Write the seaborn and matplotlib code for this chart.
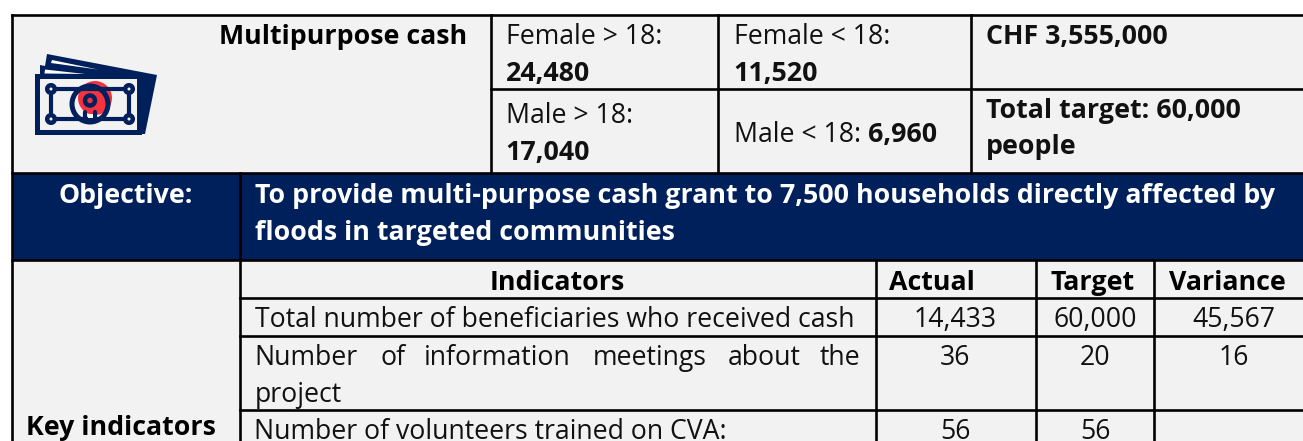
import seaborn as sns
import matplotlib
matplotlib.use("Agg")
import matplotlib.pyplot as plt
from matplotlib.patches import Rectangle, Polygon, Circle

# ---- content ----
sector = "Multipurpose cash"
people_cells = [["Female > 18:", "24,480"], ["Female < 18:", "11,520"],
                ["Male > 18:", "17,040"], ["Male < 18: ", "6,960"]]
budget = "CHF 3,555,000"
target_lines = ["Total target: 60,000", "people"]
objective_label = "Objective:"
objective_lines = ["To provide multi-purpose cash grant to 7,500 households directly affected by",
                   "floods in targeted communities"]
side_label = "Key indicators"
columns = ["Indicators", "Actual", "Target", "Variance"]
row_labels = ["Total number of beneficiaries who received cash",
              "Number of information meetings about the",
              "project",
              "Number of volunteers trained on CVA:"]
actual = ["14,433", "36", "56"]
target = ["60,000", "20", "56"]
variance = ["45,567", "16", ""]

NAVY = "#00205B"
RED = "#F5333F"
GREY = "#F2F2F2"
FS = 19.2
FS_BOLD = 19.3
DY = 2

sns.set_theme(style="white")
plt.rcParams["font.family"] = ["Open Sans", "DejaVu Sans"]

fig = plt.figure(figsize=(13.03, 4.41), dpi=100, facecolor="white")
ax = fig.add_axes([0, 0, 1, 1])
ax.set_xlim(0, 1303)
ax.set_ylim(441, 0)
ax.axis("off")

# backgrounds
ax.add_patch(Rectangle((12, 15), 1291, 426, fc=GREY, ec="none", zorder=0))
ax.add_patch(Rectangle((12, 173), 1291, 87, fc=NAVY, ec="none", zorder=1))

def line(x0, y0, x1, y1):
    ax.plot([x0, x1], [y0, y1], color="black", lw=1.9, solid_capstyle="projecting", zorder=3)

line(12, 15, 1303, 15)
line(12, 15, 12, 441)
line(12, 173, 1303, 173)
line(12, 260, 1303, 260)
line(240, 173, 240, 441)
for x in (491, 718, 971):
    line(x, 15, x, 173)
line(491, 89, 1303, 89)
for x in (876, 1036, 1154):
    line(x, 260, x, 441)
for y in (298, 336, 410):
    line(240, y, 1303, y)

def txt(x, y, s, bold=False, color="#111111", ha="left", **kw):
    return ax.text(x, y + DY, s, fontsize=FS_BOLD if bold else FS,
                   fontweight="bold" if bold else "normal",
                   color=color, ha=ha, va="center", zorder=4, **kw)

txt(343, 35, sector, bold=True, ha="center", color="black")
txt(506, 35, people_cells[0][0]); txt(506, 72, people_cells[0][1], bold=True)
txt(734, 35, people_cells[1][0]); txt(733, 72, people_cells[1][1], bold=True)
txt(506, 114, people_cells[2][0]); txt(505, 151, people_cells[2][1], bold=True)
txt(734, 133, people_cells[3][0]); txt(868, 133, people_cells[3][1], bold=True)
txt(986, 35, budget, bold=True)
txt(986, 109, target_lines[0], bold=True)
txt(986, 145, target_lines[1], bold=True)

txt(126, 194, objective_label, bold=True, color="white", ha="center")
txt(255, 194, objective_lines[0], bold=True, color="white")
txt(255, 231, objective_lines[1], bold=True, color="white")

txt(121, 426, side_label, bold=True, ha="center", color="black")
for cx, label in zip((557, 932, 1093, 1227), columns):
    txt(cx, 281, label, bold=True, ha="center", color="black")

txt(255, 318, row_labels[0])
# first line of the wrapped row is justified word by word
words = row_labels[1].split(" ")
starts = [254, 380, 424, 593, 728]
for x, w in zip(starts, words[:-1]):
    txt(x, 356, w)
txt(860, 356, words[-1], ha="right")
txt(255, 393, row_labels[2])
txt(254, 430, row_labels[3])

for y, a, t, v in zip((318, 356, 430), actual, target, variance):
    txt(955, y, a, ha="center")
    txt(1095, y, t, ha="center")
    txt(1234, y, v, ha="center")

# icon
ax.add_patch(Polygon([(47, 54), (157, 75), (145, 134), (142, 134), (142, 76), (40, 76), (40, 65), (45, 66)],
                     fc=NAVY, ec="none", zorder=2))
ax.add_patch(Polygon([(52, 60), (98, 69.5), (51, 63)], fc="white", ec="none", zorder=2))
ax.add_patch(Polygon([(45, 69.5), (85, 74), (44.5, 73.5)], fc="white", ec="none", zorder=2))
ax.add_patch(Rectangle((37.2, 76), 102, 55.5, fc=GREY, ec=NAVY, lw=3.6, zorder=2))
ax.add_patch(Circle((95, 98), 17, fc=RED, ec="none", zorder=2))
ax.plot([51, 129, 129, 51, 51], [89, 89, 119, 119, 89], color=NAVY, lw=3.0, zorder=2)
for cx in (51, 129):
    for cy in (89, 119):
        ax.add_patch(Circle((cx, cy), 3.8, fc=GREY, ec=NAVY, lw=3.2, zorder=3))
ax.add_patch(Circle((90, 104), 18, fc="none", ec=NAVY, lw=3.6, zorder=3))
ax.add_patch(Circle((90, 100.5), 5, fc=RED, ec=NAVY, lw=3.2, zorder=3))
ax.plot([85, 85], [112, 120], color=NAVY, lw=3, zorder=3)
ax.plot([95, 95], [112, 120], color=NAVY, lw=3, zorder=3)
ax.add_patch(Rectangle((87.5, 114), 5, 4, fc="white", ec="none", zorder=3))

fig.savefig("out.png", dpi=100, facecolor="white")
